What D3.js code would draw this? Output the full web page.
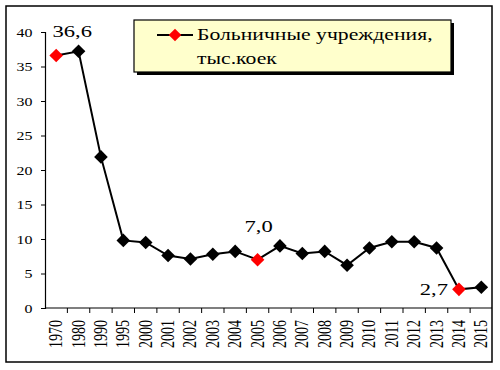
<!DOCTYPE html>
<html><head><meta charset="utf-8">
<script src="https://cdn.jsdelivr.net/npm/d3@7"></script>
<style>body{margin:0;background:#fff}svg{display:block}</style>
</head><body>
<script>
const years = ["1970","1980","1990","1995","2000","2001","2002","2003","2004","2005","2006","2007","2008","2009","2010","2011","2012","2013","2014","2015"];
const values = [36.6,37.2,21.9,9.8,9.5,7.6,7.1,7.8,8.2,7.0,9.0,7.9,8.2,6.2,8.7,9.6,9.6,8.7,2.7,3.0];
const highlighted = ["1970","2005","2014"];
const labelled = {"1970":"36,6","2005":"7,0","2014":"2,7"};
const yTicks = [0,5,10,15,20,25,30,35,40];
const legendLines = ["Больничные учреждения,","тыс.коек"];

const FONT='"Liberation Serif"';
const SX=1.33; // horizontal stretch of the original's text
const W=500,H=370;
const svg=d3.select("body").append("svg").attr("width",W).attr("height",H);

svg.append("rect").attr("x",6).attr("y",6).attr("width",486).attr("height",356)
  .attr("fill","#fff").attr("stroke","#000").attr("stroke-width",1.5);

const x=d3.scaleBand().domain(years).range([45,492.5]);
const y=d3.scaleLinear().domain([0,40]).range([308,32]);

// y axis
const ya=svg.append("g").attr("transform","translate(45,0)")
  .call(d3.axisLeft(y).tickValues(yTicks).tickSize(4).tickPadding(5));
ya.select(".domain").attr("stroke","#000").attr("stroke-width",1.2);
ya.selectAll(".tick line").attr("stroke","#000");
ya.selectAll(".tick text").each(function(){
  const t=d3.select(this);
  t.attr("x",null).attr("dy",null).attr("y",null)
   .attr("transform",`translate(-12.5,4.2) scale(${SX},1)`)
   .style("font-family",FONT).style("font-size","12px").attr("fill","#000");
});

// x axis
const xa=svg.append("g").attr("transform","translate(0,308)");
xa.append("line").attr("x1",45).attr("x2",492).attr("stroke","#000").attr("stroke-width",1.2);
xa.selectAll("line.t").data(years.slice(1)).join("line").attr("class","t")
  .attr("x1",d=>x(d)).attr("x2",d=>x(d)).attr("y1",0).attr("y2",5).attr("stroke","#000");
xa.selectAll("text").data(years).join("text")
  .attr("transform",d=>`translate(${x(d)+x.bandwidth()/2+6},12) scale(${SX},1) rotate(-90)`)
  .attr("text-anchor","end").style("font-family",FONT).style("font-size","14px").text(d=>d);

// line
const cx=d=>x(d)+x.bandwidth()/2;
const pts=years.map((d,i)=>[cx(d),y(values[i])]);
svg.append("path").attr("d",d3.line()(pts)).attr("fill","none").attr("stroke","#000").attr("stroke-width",2);

const diamond=(s)=>`M0,${-s}L${s},0L0,${s}L${-s},0Z`;
svg.selectAll("path.m").data(years).join("path").attr("class","m")
  .attr("d",diamond(6.8))
  .attr("transform",(d,i)=>`translate(${cx(d)},${y(values[i])})`)
  .attr("fill",d=>highlighted.includes(d)?"#ff0000":"#000");

// data labels
const lab=[
  {k:"1970",dx:16,dy:-18.5,anchor:"middle"},
  {k:"2005",dx:1,dy:-28,anchor:"middle"},
  {k:"2014",dx:-11,dy:6,anchor:"end"}];
lab.forEach(l=>{
  const i=years.indexOf(l.k);
  svg.append("text")
    .attr("transform",`translate(${cx(l.k)+l.dx},${y(values[i])+l.dy}) scale(${SX},1)`)
    .attr("text-anchor",l.anchor).style("font-family",FONT).style("font-size","17px")
    .text(labelled[l.k]);
});

// legend
svg.append("rect").attr("x",137).attr("y",23).attr("width",317).attr("height",52).attr("fill","#000");
svg.append("rect").attr("x",134).attr("y",20).attr("width",317).attr("height",52)
  .attr("fill","#ffffcc").attr("stroke","#000").attr("stroke-width",1.2);
svg.append("line").attr("x1",157).attr("x2",193).attr("y1",35).attr("y2",35).attr("stroke","#000").attr("stroke-width",2);
svg.append("path").attr("d",diamond(6.3)).attr("transform","translate(175,35)").attr("fill","#ff0000");
svg.selectAll("text.lg").data(legendLines).join("text").attr("class","lg")
  .attr("transform",(d,i)=>`translate(197,${40+i*24}) scale(1.24,1)`)
  .style("font-family",FONT).style("font-size","17.5px").text(d=>d);
</script>
</body></html>
